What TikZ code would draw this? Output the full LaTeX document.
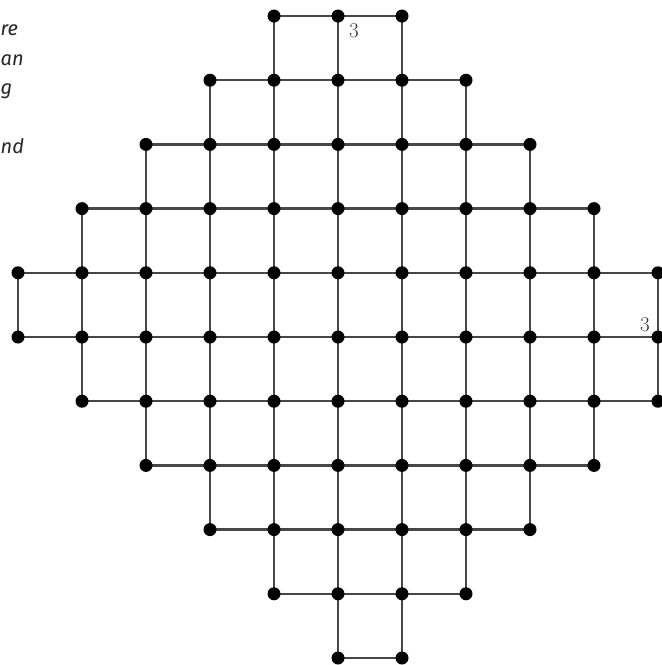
\documentclass[tikz,border=0pt]{standalone}
\usepackage{fontspec}
\newfontfamily\fragfont{Fira Sans}
\begin{document}
\begin{tikzpicture}[x=1pt,y=-1pt,
  dot/.style={circle,fill=black,inner sep=0pt,minimum size=13pt},
  edge/.style={draw=black!72,line width=2.4pt},
  lbl/.style={font=\fontsize{21}{21}\selectfont,text=black!80,inner sep=0pt},
  frag/.style={font=\fragfont\itshape\fontsize{20}{20}\selectfont,anchor=base west,inner sep=0pt,text=black!85}]
\useasboundingbox (0,0) rectangle (662,665);
% grid coordinates
\foreach \j/\L/\R in {0/4/6,1/3/7,2/2/8,3/1/9,4/0/10,5/0/10,6/1/10,7/2/9,8/3/8,9/4/7,10/5/6}{
  \foreach \i in {\L,...,\R}{
    \coordinate (n-\i-\j) at ({18+64*\i},{16+64.2*\j});
  }
}
% horizontal edges
\foreach \j/\L/\R in {0/4/6,1/3/7,2/2/8,3/1/9,4/0/10,5/0/10,6/1/10,7/2/9,8/3/8,9/4/7,10/5/6}{
  \draw[edge] (n-\L-\j) -- (n-\R-\j);
}
% vertical edges
\foreach \i/\T/\B in {0/4/5,1/3/6,2/2/7,3/1/8,4/0/9,5/0/10,6/0/10,7/1/9,8/2/8,9/3/7,10/4/6}{
  \draw[edge] (n-\i-\T) -- (n-\i-\B);
}
% dots
\foreach \j/\L/\R in {0/4/6,1/3/7,2/2/8,3/1/9,4/0/10,5/0/10,6/1/10,7/2/9,8/3/8,9/4/7,10/5/6}{
  \foreach \i in {\L,...,\R}{
    \node[dot] (d-\i-\j) at (n-\i-\j) {};
  }
}
% labels
\node[lbl] (lt) at (354,31) {3};
\node[lbl] (lr) at (645,325) {3};
% text fragments at the left edge
\node[frag] (f1) at (0.5,35) {re};
\node[frag] (f2) at (0.5,65) {an};
\node[frag] (f3) at (0.5,94) {g};
\node[frag] (f4) at (0.5,153) {nd};
\end{tikzpicture}
\end{document}
